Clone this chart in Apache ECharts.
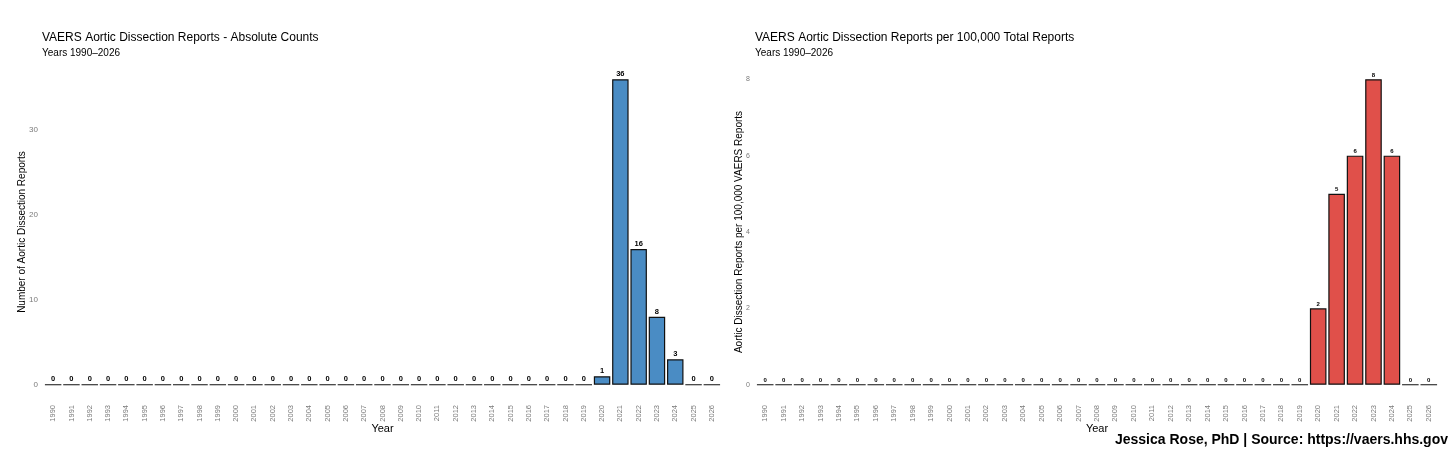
<!DOCTYPE html>
<html lang="en">
<head>
    <meta charset="UTF-8">
    <title>VAERS Aortic Dissection Reports</title>
    <style>
        html, body { margin: 0; padding: 0; background: #fff; }
    </style>
</head>
<body>
<div id="main" style="width: 1456px;height:455px;"></div>
<script src="https://cdn.jsdelivr.net/npm/echarts@6/dist/echarts.min.js"></script>
<script>
    // data
    var years = [];
    for (var y = 1990; y <= 2026; y++) { years.push(String(y)); }
    var absoluteCounts = [0,0,0,0,0,0,0,0,0,0, 0,0,0,0,0,0,0,0,0,0, 0,0,0,0,0,0,0,0,0,0, 1,36,16,8,3,0,0];
    var per100k = [0,0,0,0,0,0,0,0,0,0, 0,0,0,0,0,0,0,0,0,0, 0,0,0,0,0,0,0,0,0,0, 2,5,6,8,6,0,0];
    var leftTicks = [0, 10, 20, 30];
    var rightTicks = [0, 2, 4, 6, 8];

    var font = '"Liberation Sans", Arial, Helvetica, sans-serif';
    var myChart = echarts.init(document.getElementById('main'));

    function xAx(idx) {
        return {
            type: 'category',
            gridIndex: idx,
            data: years,
            name: 'Year',
            nameLocation: 'middle',
            nameGap: 23,
            nameMoveOverlap: false,
            nameTextStyle: { fontFamily: font, fontSize: 11, color: '#000' },
            axisLine: { show: false },
            axisTick: { show: false },
            axisLabel: { rotate: 90, fontSize: 7.5, color: '#7a7a7a', fontFamily: font, margin: 5, interval: 0 }
        };
    }
    function yAx(idx, max, ticks, name, gap, size) {
        return {
            type: 'value',
            gridIndex: idx,
            min: -max * 0.05,
            max: max * 1.05,
            name: name,
            nameLocation: 'middle',
            nameGap: gap,
            nameMoveOverlap: false,
            nameTextStyle: { fontFamily: font, fontSize: 10, color: '#000' },
            axisLine: { show: false },
            axisTick: { show: false },
            splitLine: { show: false },
            axisLabel: { customValues: ticks, fontSize: size, color: '#7a7a7a', fontFamily: font, margin: 6 }
        };
    }
    function barSeries(idx, data, color, labelSize) {
        return {
            type: 'bar',
            xAxisIndex: idx,
            yAxisIndex: idx,
            data: data,
            barCategoryGap: '10%',
            itemStyle: { color: color, borderColor: '#111', borderWidth: 1.2 },
            label: {
                show: true, position: 'top', distance: 1,
                fontSize: labelSize, fontWeight: 'bold', color: '#000', fontFamily: font
            },
            animation: false
        };
    }

    var option = {
        backgroundColor: '#fff',
        animation: false,
        title: [
            { text: 'VAERS Aortic Dissection Reports - Absolute Counts', left: 42, top: 32, padding: 0,
              textStyle: { fontFamily: font, fontSize: 12, fontWeight: 'normal', color: '#000' } },
            { text: 'Years 1990\u20132026', left: 42, top: 48, padding: 0,
              textStyle: { fontFamily: font, fontSize: 10, fontWeight: 'normal', color: '#000' } },
            { text: 'VAERS Aortic Dissection Reports per 100,000 Total Reports', left: 755, top: 32, padding: 0,
              textStyle: { fontFamily: font, fontSize: 12, fontWeight: 'normal', color: '#000' } },
            { text: 'Years 1990\u20132026', left: 755, top: 48, padding: 0,
              textStyle: { fontFamily: font, fontSize: 10, fontWeight: 'normal', color: '#000' } },
            { text: 'Jessica Rose, PhD | Source: https://vaers.hhs.gov', right: 8, top: 433, padding: 0,
              textStyle: { fontFamily: font, fontSize: 14, fontWeight: 'bold', color: '#000' } }
        ],
        grid: [
            { left: 44, width: 677, top: 64, height: 336 },
            { left: 756, width: 682, top: 64, height: 336 }
        ],
        xAxis: [xAx(0), xAx(1)],
        yAxis: [
            yAx(0, 36, leftTicks, 'Number of Aortic Dissection Reports', 17, 8),
            yAx(1, 8, rightTicks, 'Aortic Dissection Reports per 100,000 VAERS Reports', 12, 7)
        ],
        series: [
            barSeries(0, absoluteCounts, '#4a8cc4', 7.5),
            barSeries(1, per100k, '#e0504a', 6)
        ]
    };
    myChart.setOption(option);
</script>
</body>
</html>
